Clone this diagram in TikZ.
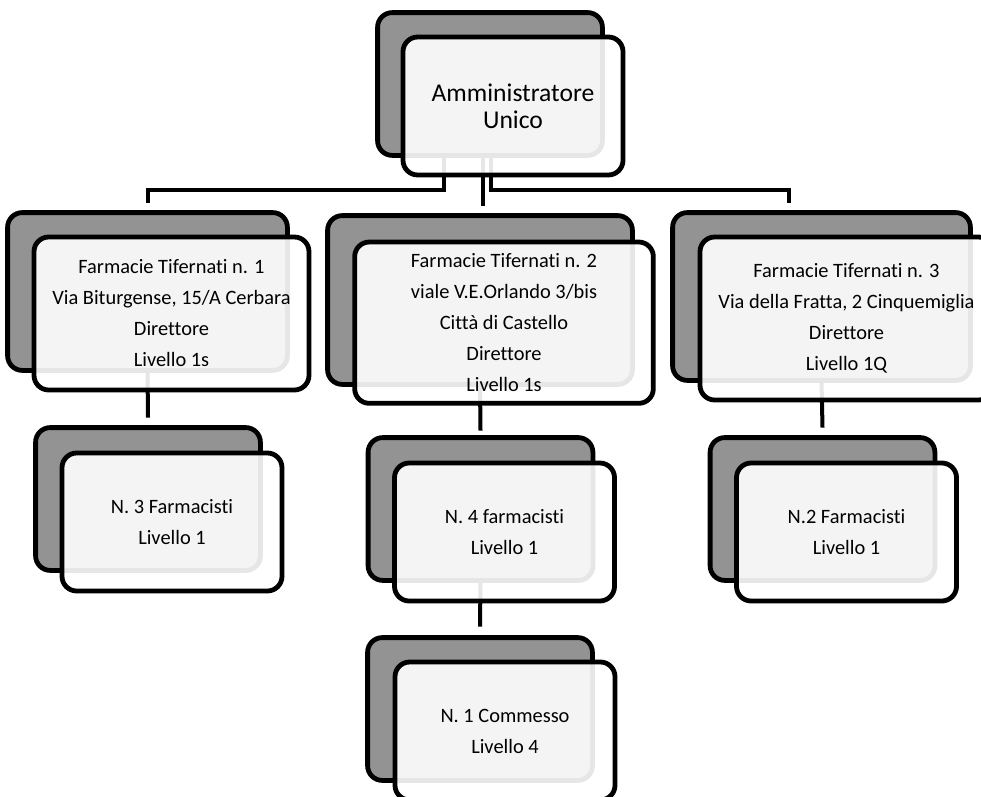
\documentclass[tikz,border=0pt]{standalone}
\usepackage{fontspec}
\setmainfont{Carlito}[Ligatures={NoCommon,NoContextual}]
\usepackage{xcolor}
\usepackage{tikz}

\definecolor{backgray}{RGB}{147,147,147}

\tikzset{
	back/.style={draw=black, line width=3.6pt, rounded corners=11pt, fill=backgray, inner sep=0pt},
	front/.style={draw=black, line width=3.6pt, rounded corners=11pt, fill=white, fill opacity=0.9, text opacity=1, inner sep=0pt, align=center, font=\fontsize{15.3}{23.25}\selectfont},
	link/.style={line width=3pt},
	small/.style={minimum width=165pt, minimum height=103.5pt},
}

\begin{document}
\begin{tikzpicture}[x=0.75pt,y=-0.75pt]
		\useasboundingbox (0,0) rectangle (981,796);
		
		% back boxes
		\node[back, small] (ammb) at (490,84) {};
		\node[back, minimum width=206.25pt, minimum height=114.75pt] (f1b) at (147.5,291.5) {};
		\node[back, minimum width=225pt, minimum height=123pt] (f2b) at (480,300) {};
		\node[back, minimum width=219.75pt, minimum height=122.25pt] (f3b) at (821.5,296.5) {};
		\node[back, small] (c1b) at (148,499) {};
		\node[back, small] (c2b) at (480.5,509) {};
		\node[back, small] (c3b) at (822.5,509) {};
		\node[back, small] (comb) at (480,709) {};
		
		% connectors
		\draw[link] ([xshift=-34.5pt]ammb.south) -- ++(0,35) -| ([yshift=7.5pt]f1b.north);
		\draw[link] ([xshift=-5.25pt]ammb.south) -- ([xshift=2.25pt,yshift=7.5pt]f2b.north);
		\draw[link] ([xshift=0.75pt]ammb.south) -- ++(0,35) -| ([xshift=-24.4pt,yshift=7.5pt]f3b.north);
		\draw[link] (f1b.south) -- ([yshift=7.5pt]c1b.north);
		\draw[link] (f2b.south) -- ([yshift=5.25pt]c2b.north);
		\draw[link] (f3b.south) -- ([yshift=7.5pt]c3b.north);
		\draw[link] (c2b.south) -- ([yshift=8.25pt]comb.north);
		
		% back boxes again, over the connectors
		\foreach \b in {ammb,f1b,f2b,f3b,c1b,c2b,c3b,comb}{
			\path[back] (\b.south west) rectangle (\b.north east);
		}
		
		% front boxes
		\node[front, small, font=\fontsize{19.2}{20.25}\selectfont] (amm) at ([xshift=17.25pt,yshift=-16.5pt]ammb.center) {Amministratore\\Unico};
		\node[front, minimum width=206.25pt, minimum height=114.75pt] (f1) at ([xshift=18pt,yshift=-16.5pt]f1b.center) {Farmacie Tifernati n. 1\\Via Biturgense, 15/A Cerbara\\Direttore\\Livello 1s};
		\node[front, minimum width=224pt, minimum height=121pt] (f2) at ([xshift=18pt,yshift=-17pt]f2b.center) {Farmacie Tifernati n. 2\\viale V.E.Orlando 3/bis\\Città di Castello\\Direttore\\Livello 1s};
		\node[front, minimum width=219.75pt, minimum height=122.25pt] (f3) at ([xshift=18.75pt,yshift=-16.5pt]f3b.center) {Farmacie Tifernati n. 3\\Via della Fratta, 2 Cinquemiglia\\Direttore\\Livello 1Q};
		\node[front, small] (c1) at ([xshift=18pt,yshift=-17.25pt]c1b.center) {N. 3 Farmacisti\\Livello 1};
		\node[front, small] (c2) at ([xshift=18pt,yshift=-17.25pt]c2b.center) {N. 4 farmacisti\\Livello 1};
		\node[front, small] (c3) at ([xshift=18pt,yshift=-17.25pt]c3b.center) {N.2 Farmacisti\\Livello 1};
		\node[front, small] (com) at ([xshift=18.75pt,yshift=-16.5pt]comb.center) {N. 1 Commesso\\Livello 4};
	\end{tikzpicture}
\end{document}
